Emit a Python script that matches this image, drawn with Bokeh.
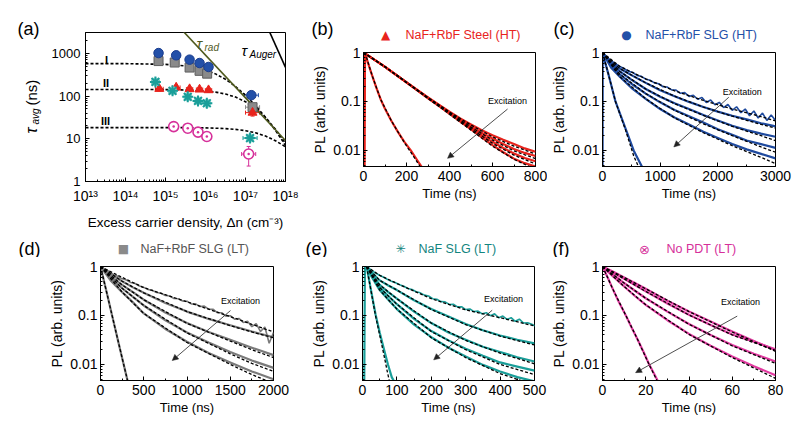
import math
from bokeh.plotting import figure
from bokeh.layouts import column, row
from bokeh.models import (Range1d, FixedTicker, SingleIntervalTicker, CustomJSTickFormatter, LogAxis,
                          Label, Arrow, NormalHead, Whisker, TeeHead, ColumnDataSource)
from bokeh.embed import file_html
from bokeh.resources import INLINE

FONT = "Liberation Sans"
SYM = "DejaVu Sans"

RED = "#e8231c"
BLUE = "#2350a8"
BLUE_LINE = "#1f4a9e"
GRAY = "#8a8a8a"
GRAY_EDGE = "#5e5e5e"
TEAL = "#1a9e99"
TEAL_TXT = "#14857f"
MAG = "#d6309a"
MAG_LINE = "#e23aa0"
OLIVE = "#4f5a1e"

# ---------------- panel (a) data ----------------
dens_ticks = [1e13, 1e14, 1e15, 1e16, 1e17, 1e18]
tau_ticks = [1, 10, 100, 1000]

model_n = [1e13, 1e14, 1e15, 3.16e15, 1e16, 1.78e16, 3.16e16, 5.62e16, 1e17, 1.78e17, 3.16e17, 5.62e17, 1e18]
model_I = [576, 574, 553, 510, 408, 331, 247, 168, 105, 60, 32, 15.7, 7.0]
model_II = [143, 143, 141.8, 139, 131.6, 123.8, 111.7, 94.8, 73.6, 51, 31.3, 16.8, 7.9]
model_III = [18.3, 18.3, 18.28, 18.2, 18.0, 17.7, 17.3, 16.6, 15.5, 13.8, 11.6, 9.0, 6.5]

rad_n = [2.0e15, 1.0e18]
rad_tau = [4550, 9.1]
auger_n = [3.5e17, 1.0e18]
auger_tau = [4200, 470]

blue_n = [6.7e14, 1.85e15, 4.0e15, 7.1e15, 1.19e16, 1.4e17]
blue_tau = [1016, 900, 713, 594, 480, 105]
blue_nerr = [1.25, 1.25, 1.2, 1.2, 1.2, 1.5]
blue_tlo = [950, 850, 670, 560, 450, 96]
blue_thi = [1080, 950, 760, 630, 510, 115]

gray_n = [6.7e14, 1.7e15, 4.0e15, 7.1e15, 1.1e16, 1.5e17]
gray_tau = [660, 610, 465, 390, 335, 55]
gray_nerr = [1.25, 1.25, 1.2, 1.2, 1.2, 1.5]
gray_tlo = [620, 570, 435, 365, 313, 49]
gray_thi = [700, 650, 495, 415, 357, 61]

red_n = [7.0e14, 1.85e15, 4.0e15, 7.1e15, 1.19e16, 1.5e17]
red_tau = [148, 159, 146, 143, 138, 41]
red_nerr = [1.25, 1.25, 1.2, 1.2, 1.2, 1.5]
red_tlo = [132, 140, 130, 128, 122, 34]
red_thi = [165, 178, 162, 158, 154, 49]

teal_n = [5.6e14, 1.5e15, 3.6e15, 6.5e15, 1.08e16, 1.3e17]
teal_tau = [215, 133, 96, 77, 68, 10.4]
teal_nerr = [1.25, 1.25, 1.2, 1.2, 1.2, 1.5]
teal_tlo = [200, 124, 90, 72, 63, 9.6]
teal_thi = [230, 142, 103, 83, 73, 11.3]

mag_n = [1.6e15, 3.6e15, 6.5e15, 1.08e16, 1.2e17]
mag_tau = [19.3, 17.7, 14.3, 11.3, 4.4]
mag_nerr = [1.2, 1.2, 1.2, 1.2, 1.5]
mag_tlo = [18.2, 16.7, 13.4, 10.6, 2.3]
mag_thi = [20.5, 18.8, 15.2, 12.0, 6.6]

# ---------------- decay panels data ----------------
pl_major = [0.01, 0.1, 1]
pl_minor_labelled = [0.02, 0.04, 0.2, 0.4]
PL_MIN = 0.0047

# (b) NaF+RbF Steel (HT)
b_t = [0, 50, 100, 150, 200, 250, 300, 350, 400, 450, 500, 550, 600, 650, 700, 750, 800]
b_pl1 = [1, .715, .51, .355, .245, .172, .121, .086, .062, .045, .034, .026, .0205, .0165, .0135, .011, .0094]
b_pl2 = [1, .715, .51, .355, .245, .171, .120, .085, .060, .043, .031, .023, .0175, .0135, .0107, .0089, .0077]
b_pl3 = [1, .715, .51, .355, .245, .170, .118, .083, .058, .041, .029, .0205, .015, .0112, .0087, .007, .006]
b_pl4 = [1, .715, .51, .355, .245, .169, .116, .081, .056, .039, .027, .0185, .0128, .0092, .0068, .0055, .0047]
b_fit_t = [0, 100, 200, 300, 400, 500, 600, 700, 800]
b_fit1 = [1, .51, .245, .12, .061, .033, .019, .0122, .0085]
b_fit2 = [1, .51, .245, .119, .059, .030, .0163, .0098, .0068]
b_fit3 = [1, .51, .245, .117, .057, .028, .014, .0080, .0053]
b_fit4 = [1, .51, .245, .115, .055, .026, .0122, .0066, .0041]
b_fast_t = [5, 7, 20, 40, 60, 80, 100, 130, 160, 190, 220, 250, 280]
b_fast = [.003, 1, .63, .34, .19, .11, .071, .04, .024, .015, .01, .0063, .004]
b_fast_fit_t = [7, 40, 80, 130, 190, 250, 280]
b_fast_fit = [1, .34, .11, .04, .0145, .0058, .0036]

# (c) NaF+RbF SLG (HT)
c_t = [0, 150, 300, 500, 750, 1000, 1250, 1500, 1750, 2000, 2250, 2500, 2750, 3000]
c_pl2 = [1, .62, .47, .345, .24, .17, .128, .098, .077, .062, .051, .043, .036, .031]
c_pl3 = [1, .57, .41, .28, .18, .125, .092, .07, .053, .041, .032, .026, .022, .019]
c_pl4 = [1, .53, .36, .23, .145, .096, .067, .05, .037, .027, .021, .016, .0135, .0113]
c_pl5 = [1, .49, .32, .19, .113, .07, .047, .034, .024, .018, .0135, .0105, .0085, .0069]
c_noisy_t = list(range(0, 3001, 75))
c_noisy = [1.0, .80, .68, .59, .52, .47, .415, .39, .34, .325, .285, .272, .24, .23, .2, .197, .172, .171,
           .147, .152, .127, .134, .111, .121, .095, .107, .086, .096, .075, .087, .066, .078, .059, .07,
           .051, .064, .046, .058, .041, .053, .041]
c_fit_t = [0, 300, 750, 1250, 1750, 2250, 2750, 3000]
c_fit1 = [1, .52, .29, .165, .105, .07, .049, .04]
c_fit2 = [1, .47, .24, .128, .077, .05, .034, .0285]
c_fit3 = [1, .41, .18, .09, .052, .031, .02, .0158]
c_fit4 = [1, .36, .145, .066, .035, .02, .0118, .0092]
c_fit5 = [1, .32, .113, .046, .023, .0125, .0072, .0054]
c_fast_t = [1, 4, 50, 100, 150, 225, 300, 400, 540, 620, 700]
c_fast = [.003, 1, .6, .37, .22, .1, .058, .028, .01, .0065, .0043]
c_fast_fit_t = [4, 100, 225, 400, 540, 640]
c_fast_fit = [1, .37, .1, .026, .0078, .0042]

# (d) NaF+RbF SLG (LT)
d_t = [0, 125, 250, 375, 500, 750, 1000, 1250, 1500, 1750, 2000]
d_pl2 = [1, .68, .5, .375, .29, .18, .12, .085, .063, .047, .036]
d_pl3 = [1, .6, .42, .3, .21, .115, .07, .046, .032, .022, .0155]
d_pl4 = [1, .55, .36, .24, .16, .08, .045, .028, .018, .012, .0085]
d_pl5 = [1, .5, .3, .185, .11, .053, .029, .0172, .011, .0072, .005]
d_noisy_t = list(range(0, 2001, 50))
d_noisy = [1, .88, .79, .68, .63, .56, .53, .47, .45, .40, .375, .34, .325, .295, .285, .255, .25, .222,
           .22, .197, .195, .172, .173, .152, .155, .135, .134, .114, .114, .097, .099, .084, .087, .072,
           .076, .059, .068, .047, .058, .027, .045]
d_fit_t = [0, 250, 500, 1000, 1500, 1750, 2000]
d_fit1 = [1, .6, .37, .19, .095, .066, .046]
d_fit2 = [1, .5, .29, .12, .062, .046, .035]
d_fit3 = [1, .42, .21, .069, .03, .02, .0138]
d_fit4 = [1, .36, .16, .044, .0165, .0105, .0072]
d_fit5 = [1, .3, .11, .028, .0100, .0062, .0041]
d_fast_t = [0, 67, 134, 200, 268, 330]
d_fast = [1, .32, .1, .032, .01, .0035]

# (e) NaF SLG (LT)
e_t = [12, 25, 50, 75, 100, 150, 200, 250, 300, 350, 400, 450, 500]
e_pl2 = [1, .78, .52, .41, .33, .205, .135, .095, .067, .05, .039, .032, .027]
e_pl3 = [1, .72, .42, .3, .22, .12, .07, .045, .032, .023, .018, .014, .0115]
e_pl4 = [1, .68, .37, .25, .17, .085, .048, .031, .021, .015, .011, .009, .0075]
e_pl5 = [1, .64, .33, .21, .135, .065, .036, .022, .0145, .0098, .0072, .0055, .0045]
e_noisy_t = list(range(12, 505, 12))
e_noisy = [1, .86, .75, .67, .61, .55, .5, .465, .425, .395, .355, .34, .305, .29, .26, .25, .22, .215,
           .192, .19, .168, .17, .15, .151, .132, .136, .12, .123, .108, .114, .099, .108, .09, .097,
           .083, .09, .076, .084, .07, .071, .066, .06]
e_fit_t = [12, 50, 100, 200, 300, 400, 500]
e_fit1 = [1, .66, .45, .22, .13, .09, .061]
e_fit2 = [1, .52, .33, .132, .065, .038, .025]
e_fit3 = [1, .42, .22, .07, .031, .017, .0103]
e_fit4 = [1, .37, .17, .047, .02, .0100, .0062]
e_fit5 = [1, .33, .135, .035, .0138, .0065, .0038]
e_fast_t = [5, 7, 12, 25, 38, 50, 62, 74, 85, 92]
e_fast = [.003, .95, 1, .32, .105, .045, .021, .01, .0055, .0045]
e_fast_fit_t = [12, 25, 38, 50, 62, 72, 80]
e_fast_fit = [1, .31, .098, .04, .016, .0072, .004]

# (f) No PDT (LT)
f_t = [0, 5, 10, 15, 20, 30, 40, 50, 60, 70, 80]
f_pl1 = [1, .78, .6, .46, .35, .2, .12, .075, .047, .03, .0195]
f_pl2 = [1, .75, .56, .42, .31, .175, .103, .064, .041, .029, .0205]
f_pl3 = [1, .68, .46, .32, .225, .12, .067, .04, .025, .0165, .0115]
f_pl4 = [1, .62, .39, .25, .165, .08, .042, .024, .0145, .0092, .006]
f_fast_t = [0, 2.5, 5, 7.5, 10.8, 13.5, 16, 19, 21.6, 24, 26.5]
f_fast = [1, .58, .33, .19, .1, .056, .034, .018, .01, .0063, .0038]
f_fit_t = [0, 10, 20, 40, 60, 80]
f_fit1 = [1, .6, .35, .12, .046, .0185]
f_fit2 = [1, .56, .31, .102, .04, .0195]
f_fit3 = [1, .46, .225, .066, .024, .0105]
f_fit4 = [1, .39, .165, .041, .0138, .0052]
f_fast_fit_t = [0, 5, 10.8, 16, 21.6, 26.5]
f_fast_fit = [1, .33, .1, .034, .0098, .0036]

# "Excitation" annotations: text (x, y), arrow (x0, y0, x1, y1)
exc_b = [670, 0.1, 670, 0.07, 391, 0.0069]
exc_c = [2423, 0.155, 2190, 0.122, 1237, 0.0118]
exc_d = [1618, 0.2, 1503, 0.126, 829, 0.012]
exc_e = [410, 0.214, 377, 0.128, 207, 0.0124]
exc_f = [63.8, 0.189, 62.3, 0.097, 15.3, 0.0068]


def no_align(p):
    try:
        p.frame_align = False
    except Exception:
        pass


def lab(p, x, y, text, size, color="black", style="normal", font=FONT, align="left",
        baseline="middle", angle=0.0, xu="screen", yu="screen"):
    p.add_layout(Label(x=x, y=y, x_units=xu, y_units=yu, text=text, text_font=font,
                       text_font_size=size, text_color=color, text_font_style=style,
                       text_align=align, text_baseline=baseline, angle=angle))


def strip(w, h):
    p = figure(width=w, height=h, x_range=Range1d(0, w), y_range=Range1d(0, h), title=None,
               toolbar_location=None, output_backend="svg", x_axis_location=None,
               y_axis_location=None, min_border=0)
    p.xgrid.visible = False
    p.ygrid.visible = False
    p.outline_line_color = None
    p.background_fill_color = "white"
    p.border_fill_color = "white"
    no_align(p)
    return p


def style_axes(p, tick_font="14px"):
    for ax in (p.xaxis[0], p.yaxis[0]):
        ax.axis_line_color = "black"
        ax.major_tick_in = 4
        ax.major_tick_out = 0
        ax.minor_tick_in = 2
        ax.minor_tick_out = 0
        ax.major_tick_line_color = "black"
        ax.minor_tick_line_color = "black"
        ax.major_label_text_font = FONT
        ax.major_label_text_font_size = tick_font
        ax.major_label_text_color = "black"
        ax.axis_label_text_font = FONT
        ax.axis_label_text_font_style = "normal"
        ax.axis_label_text_color = "black"
    p.xgrid.visible = False
    p.ygrid.visible = False
    p.outline_line_color = "black"
    p.outline_line_width = 1
    p.background_fill_color = "white"
    p.border_fill_color = "white"
    no_align(p)


# ---------------- panel (a) ----------------  page x 0..299, y 0..232
gut_a = strip(45, 232)
lab(gut_a, 17, 204, "(a)", "18px")
lab(gut_a, 31, 99, "\u03c4", "16px", style="italic", angle=math.pi / 2)
lab(gut_a, 35, 108, "avg", "10px", style="italic", angle=math.pi / 2)
lab(gut_a, 31, 127, "(ns)", "15px", angle=math.pi / 2)

pa = figure(width=254, height=232, x_range=Range1d(1e13, 1e18), y_range=Range1d(1, 3080),
            x_axis_type="log", y_axis_type="log", output_backend="svg", toolbar_location=None,
            title=None, min_border_left=40, min_border_right=14, min_border_top=32, min_border_bottom=50)
style_axes(pa, "13px")
pa.xaxis.major_label_text_font_size = "14px"
pa.xaxis.ticker = FixedTicker(ticks=dens_ticks,
                              minor_ticks=[m * 10.0 ** e for e in range(13, 18) for m in range(2, 10)])
pa.yaxis.ticker = FixedTicker(ticks=tau_ticks,
                              minor_ticks=[m * 10.0 ** e for e in range(0, 4) for m in range(2, 10)])
pa.xaxis.formatter = CustomJSTickFormatter(code="""
const sup = {'0':'\u2070','1':'\u00b9','2':'\u00b2','3':'\u00b3','4':'\u2074','5':'\u2075','6':'\u2076','7':'\u2077','8':'\u2078','9':'\u2079','-':'\u207b'};
const e = Math.round(Math.log10(tick));
return '10' + String(e).split('').map(c => sup[c]).join('');
""")
pa.yaxis.formatter = CustomJSTickFormatter(code="return String(Math.round(tick));")
pa.xaxis.axis_label = "Excess carrier density, \u0394n (cm\u207b\u00b3)"
pa.xaxis.axis_label_text_font_size = "13.5px"
pa.xaxis.major_label_standoff = 6
pa.xaxis.axis_label_standoff = 8
pa.yaxis.major_label_standoff = 5

for ys in (model_I, model_II, model_III):
    pa.line(model_n, ys, line_color="black", line_width=1.6, line_dash="3 2")
pa.line(rad_n, rad_tau, line_color=OLIVE, line_width=1.6)
pa.line(auger_n, auger_tau, line_color="black", line_width=1.6)


def series(p, n, tau, nerr, tlo, thi, color):
    src = ColumnDataSource(dict(n=n, tau=tau, nlo=[a / f for a, f in zip(n, nerr)],
                                nhi=[a * f for a, f in zip(n, nerr)], tlo=tlo, thi=thi))
    p.add_layout(Whisker(source=src, base="tau", lower="nlo", upper="nhi", dimension="width",
                         line_color=color, line_width=1,
                         lower_head=TeeHead(size=4, line_color=color),
                         upper_head=TeeHead(size=4, line_color=color)))
    p.add_layout(Whisker(source=src, base="n", lower="tlo", upper="thi", dimension="height",
                         line_color=color, line_width=1,
                         lower_head=TeeHead(size=4, line_color=color),
                         upper_head=TeeHead(size=4, line_color=color)))
    return src


s = series(pa, gray_n, gray_tau, gray_nerr, gray_tlo, gray_thi, GRAY)
pa.scatter("n", "tau", source=s, marker="square", size=9, fill_color=GRAY, line_color=GRAY_EDGE)
s = series(pa, blue_n, blue_tau, blue_nerr, blue_tlo, blue_thi, BLUE)
pa.scatter("n", "tau", source=s, marker="circle", size=9.5, fill_color=BLUE, line_color="#1a3d8f")
s = series(pa, red_n, red_tau, red_nerr, red_tlo, red_thi, RED)
pa.scatter("n", "tau", source=s, marker="triangle", size=9, fill_color=RED, line_color=RED)
s = series(pa, teal_n, teal_tau, teal_nerr, teal_tlo, teal_thi, TEAL)
pa.scatter("n", "tau", source=s, marker="circle", size=9, fill_color="#8fd6d2", line_color=None)
pa.scatter("n", "tau", source=s, marker="asterisk", size=11, line_color=TEAL, line_width=2)
s = series(pa, mag_n, mag_tau, mag_nerr, mag_tlo, mag_thi, MAG)
pa.scatter("n", "tau", source=s, marker="circle_dot", size=10, fill_color="white", line_color=MAG,
           line_width=1.6)

lab(pa, 21, 122, "I", "11px", style="bold", align="center")
lab(pa, 20.5, 98.5, "II", "11px", style="bold", align="center")
lab(pa, 20, 61, "III", "11px", style="bold", align="center")
lab(pa, 111, 138, "\u03c4", "15px", color=OLIVE, style="italic")
lab(pa, 119, 134, "rad", "10px", color=OLIVE, style="italic")
lab(pa, 156, 131, "\u03c4", "15px", style="italic")
lab(pa, 164, 127, "Auger", "10px", style="italic")


# ---------------- decay panels ----------------
def decay_fig(xmax, step, w, h, bl, br, bt, bb):
    p = figure(width=w, height=h, x_range=Range1d(0, xmax), title=None,
               y_range=Range1d(PL_MIN, 1.0), y_axis_type="log", output_backend="svg",
               toolbar_location=None, min_border_left=bl, min_border_right=br,
               min_border_top=bt, min_border_bottom=bb)
    style_axes(p, "14px")
    p.xaxis.ticker = SingleIntervalTicker(interval=step, num_minor_ticks=2)
    p.yaxis.ticker = FixedTicker(ticks=pl_major,
                                 minor_ticks=[m * 10.0 ** e for e in (-3, -2, -1) for m in range(2, 10)])
    p.yaxis.formatter = CustomJSTickFormatter(code="return String(tick);")
    p.xaxis.axis_label = "Time (ns)"
    p.yaxis.axis_label = "PL (arb. units)"
    p.xaxis.axis_label_text_font_size = "13px"
    p.yaxis.axis_label_text_font_size = "14px"
    p.xaxis.major_label_standoff = 4
    p.yaxis.major_label_standoff = 3
    p.xaxis.axis_label_standoff = 2
    p.yaxis.axis_label_standoff = 2
    # small mantissa labels (2, 4) of the minor ticks, drawn by a second axis at x = 0
    ax2 = LogAxis(fixed_location=0, ticker=FixedTicker(ticks=pl_minor_labelled, minor_ticks=[]),
                  formatter=CustomJSTickFormatter(
                      code="return String(Math.round(tick / Math.pow(10, Math.floor(Math.log10(tick) + 1e-9))));"),
                  axis_line_color=None, major_tick_line_color=None, minor_tick_line_color=None,
                  major_label_text_font=FONT, major_label_text_font_size="8px",
                  major_label_standoff=1, major_tick_in=0, major_tick_out=0)
    p.add_layout(ax2, "left")
    return p


def curves(p, solids, fits, color, lw=2.2):
    for t, y in solids:
        p.line(t, y, line_color=color, line_width=lw, line_join="round")
    for t, y in fits:
        p.line(t, y, line_color="black", line_width=1.3, line_dash="3 2")


def excitation(p, e):
    lab(p, e[0], e[1], "Excitation", "9px", align="center", xu="data", yu="data")
    p.add_layout(Arrow(end=NormalHead(size=6, fill_color="#222222", line_color="#222222", line_width=0.5),
                       x_start=e[2], y_start=e[3], x_end=e[4], y_end=e[5],
                       line_color="#222222", line_width=0.8))


# header strip above (b) and (c): page x 299..796, y 0..43
strip_bc = strip(497, 43)
lab(strip_bc, 12, 15, "(b)", "18px")
lab(strip_bc, 86, 8.5, "\u25b2", "12px", color=RED, font=SYM, align="center")
lab(strip_bc, 106, 8.5, "NaF+RbF Steel (HT)", "12.5px", color=RED)
lab(strip_bc, 254, 15, "(c)", "18px")
lab(strip_bc, 327, 9, "\u25cf", "12px", color=BLUE, font=SYM, align="center")
lab(strip_bc, 346, 8.5, "NaF+RbF SLG (HT)", "12.5px", color=BLUE)

# page y 43..232 ; frames 52..166
pb = decay_fig(800, 200, 248, 189, 64, 12, 9, 66)
curves(pb, [(b_t, b_pl1), (b_t, b_pl2), (b_t, b_pl3), (b_t, b_pl4), (b_fast_t, b_fast)],
       [(b_fit_t, b_fit1), (b_fit_t, b_fit2), (b_fit_t, b_fit3), (b_fit_t, b_fit4),
        (b_fast_fit_t, b_fast_fit)], RED)
excitation(pb, exc_b)

pc = decay_fig(3000, 1000, 249, 189, 55, 21, 9, 66)
pc.line(c_noisy_t, c_noisy, line_color=BLUE_LINE, line_width=1.6)
curves(pc, [(c_t, c_pl2), (c_t, c_pl3), (c_t, c_pl4), (c_t, c_pl5), (c_fast_t, c_fast)],
       [(c_fit_t, c_fit1), (c_fit_t, c_fit2), (c_fit_t, c_fit3), (c_fit_t, c_fit4), (c_fit_t, c_fit5),
        (c_fast_fit_t, c_fast_fit)], BLUE_LINE)
excitation(pc, exc_c)

# header strip above row 2: page x 0..796, y 232..257
strip2 = strip(796, 25)
lab(strip2, 18, 9, "(d)", "18px")
lab(strip2, 123, 8.5, "\u25a0", "12px", color=GRAY, font=SYM, align="center")
lab(strip2, 140, 8.5, "NaF+RbF SLG (LT)", "12.5px", color="#555555")
lab(strip2, 305, 9, "(e)", "18px")
lab(strip2, 400, 8.5, "\u2733", "12px", color=TEAL_TXT, font=SYM, align="center")
lab(strip2, 418, 8.5, "NaF SLG (LT)", "12.5px", color=TEAL_TXT)
lab(strip2, 552, 9, "(f)", "18px")
lab(strip2, 644, 8.5, "\u2297", "13px", color=MAG, font=SYM, align="center")
lab(strip2, 666, 8.5, "No PDT (LT)", "12.5px", color=MAG)

# page y 257..428 ; frames 266..380
pd = decay_fig(2000, 500, 295, 171, 100, 22, 9, 48)
pd.line(d_noisy_t, d_noisy, line_color="#7a7a7a", line_width=1.6)
curves(pd, [(d_t, d_pl2), (d_t, d_pl3), (d_t, d_pl4), (d_t, d_pl5), (d_fast_t, d_fast)],
       [(d_fit_t, d_fit1), (d_fit_t, d_fit2), (d_fit_t, d_fit3), (d_fit_t, d_fit4), (d_fit_t, d_fit5),
        (d_fast_t, d_fast)], "#7a7a7a")
excitation(pd, exc_d)

pe = decay_fig(500, 100, 252, 171, 67, 13, 9, 48)
pe.line(e_noisy_t, e_noisy, line_color=TEAL, line_width=1.6)
curves(pe, [(e_t, e_pl2), (e_t, e_pl3), (e_t, e_pl4), (e_t, e_pl5), (e_fast_t, e_fast)],
       [(e_fit_t, e_fit1), (e_fit_t, e_fit2), (e_fit_t, e_fit3), (e_fit_t, e_fit4), (e_fit_t, e_fit5),
        (e_fast_fit_t, e_fast_fit)], TEAL)
excitation(pe, exc_e)

pf = decay_fig(80, 20, 249, 171, 55, 21, 9, 48)
curves(pf, [(f_t, f_pl1), (f_t, f_pl2), (f_t, f_pl3), (f_t, f_pl4), (f_fast_t, f_fast)],
       [(f_fit_t, f_fit1), (f_fit_t, f_fit2), (f_fit_t, f_fit3), (f_fit_t, f_fit4),
        (f_fast_fit_t, f_fast_fit)], MAG_LINE)
excitation(pf, exc_f)

row1 = row(gut_a, pa, column(strip_bc, row(pb, pc)))
row2 = column(strip2, row(pd, pe, pf))
layout = column(row1, row2)
open("out.html", "w").write(file_html(layout, INLINE, title="PL decay"))
